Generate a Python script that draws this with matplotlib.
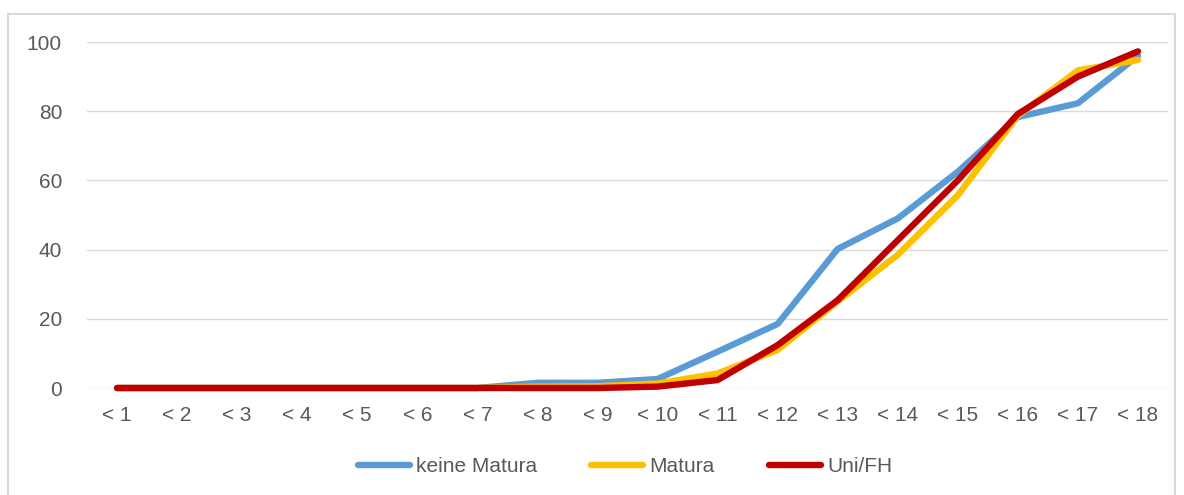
import matplotlib
matplotlib.use("Agg")
import matplotlib.pyplot as plt
from matplotlib.patches import Rectangle

plt.rcParams['font.family'] = ['Liberation Sans', 'DejaVu Sans']

# Kategorien (Alter) und Werte je Bildungsgruppe
categories = ["< 1", "< 2", "< 3", "< 4", "< 5", "< 6", "< 7", "< 8", "< 9",
              "< 10", "< 11", "< 12", "< 13", "< 14", "< 15", "< 16", "< 17", "< 18"]
keine_matura = [0, 0, 0, 0, 0, 0, 0, 1.5, 1.5, 2.6, 10.5, 18.5, 40.2, 49.0, 62.5, 78.3, 82.3, 96.0]
matura = [0, 0, 0, 0, 0, 0, 0, 0.4, 0.5, 1.3, 4.2, 11.0, 25.0, 38.5, 55.7, 78.7, 91.8, 94.8]
uni_fh = [0, 0, 0, 0, 0, 0, 0, 0, 0, 0.4, 2.3, 12.4, 25.4, 42.7, 60.0, 79.2, 90.0, 97.3]

series = [
    ("keine Matura", keine_matura, "#5B9BD5"),
    ("Matura", matura, "#FFC000"),
    ("Uni/FH", uni_fh, "#C00000"),
]

W, H = 1184, 495
fig = plt.figure(figsize=(W / 100, H / 100), dpi=100)

# grauer Rahmen wie im Excel-Diagramm
fig.patches.append(Rectangle((8 / W, -0.01), (1175 - 8) / W, 1 - 14 / H + 0.01,
                             transform=fig.transFigure, fill=False,
                             edgecolor="#D9D9D9", linewidth=1.5))

ax = fig.add_axes([87 / W, 1 - 388 / H, (1168 - 87) / W, (388 - 42) / H])

x = range(len(categories))
for name, vals, col in series:
    ax.plot(x, vals, color=col, linewidth=4.6, label=name,
            solid_capstyle="round", solid_joinstyle="round", clip_on=False)

ax.set_xlim(-0.5, len(categories) - 0.5)
ax.set_ylim(0, 100)
ax.set_yticks(range(0, 101, 20))
ax.set_xticks(list(x))
ax.set_xticklabels(categories)
ax.grid(axis="y", color="#D9D9D9", linewidth=1)
ax.set_axisbelow(True)
for s in ax.spines.values():
    s.set_visible(False)
ax.tick_params(length=0, labelsize=15, colors="#595959")
ax.tick_params(axis="x", pad=13)
ax.tick_params(axis="y", pad=18)

leg = fig.legend(loc="center", bbox_to_anchor=(625 / W, 1 - 467 / H), ncol=3,
                 frameon=False, fontsize=15, handlelength=2.5,
                 handletextpad=0.3, columnspacing=2.6)
for t in leg.get_texts():
    t.set_color("#595959")

fig.savefig("out.png", dpi=100)
